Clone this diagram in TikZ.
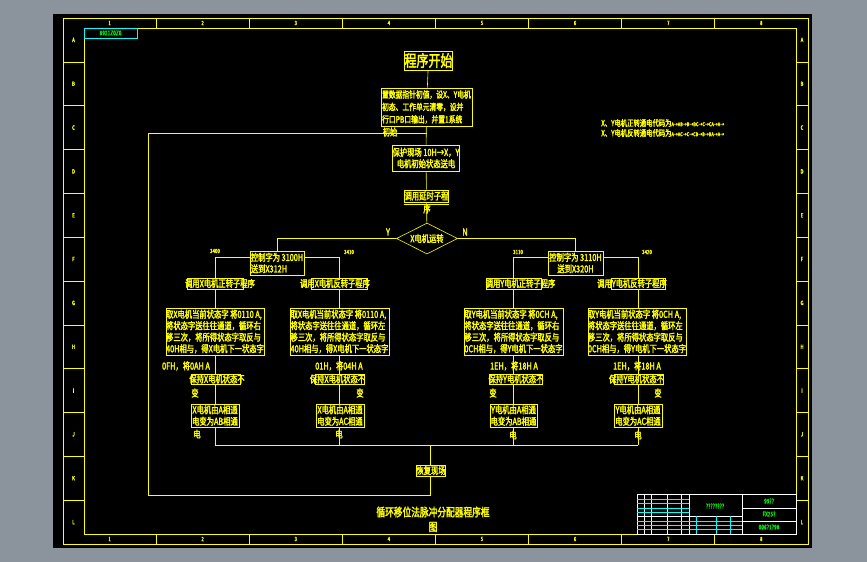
\documentclass[tikz,border=0pt]{standalone}
\usepackage{fontspec}
\newfontfamily\cadfont[FakeStretch=0.75,FakeBold=2.2]{Noto Sans CJK SC}
\usetikzlibrary{shapes.geometric,calc}
\definecolor{cadgray}{RGB}{139,147,157}
\definecolor{cadyellow}{RGB}{255,255,0}
\definecolor{cadcyan}{RGB}{0,255,255}
\definecolor{cadgreen}{RGB}{0,235,0}
\def\pxu{0.3mm}
\tikzset{
  cadline/.style={draw=cadyellow,line width=0.5pt},
  txt/.style={text=cadyellow,inner sep=0pt,font=\cadfont\fontsize{8.3}{9.8}\selectfont},
  tinytxt/.style={text=cadyellow,inner sep=0pt,font=\cadfont\fontsize{5}{6}\selectfont},
  box/.style={cadline,rectangle,inner sep=0pt,txt},
  wh/.style 2 args={minimum width=#1*\pxu,minimum height=#2*\pxu},
  tbtxt/.style={text=cadgreen,inner sep=0pt,font=\cadfont\fontsize{5.5}{6}\selectfont},
}
\begin{document}
\begin{tikzpicture}[x=0.3mm,y=-0.3mm]
  % SHEET
  \fill[cadgray] (0,0) rectangle (867,562);
  \fill[black] (53,14) rectangle (812,548);
  \draw[cadline] (63,18) rectangle (808,544);
  \draw[cadline] (84,28) rectangle (796,534);
  \foreach \i [count=\n] in {1,...,7}{
    \draw[cadline] (63+93.1*\n,18) -- (63+93.1*\n,28);
    \draw[cadline] (63+93.1*\n,534) -- (63+93.1*\n,544);
  }
  \foreach \i [count=\n] in {1,...,8}{
    \node[tinytxt] (zt\n) at (16.5+93.1*\n,23) {\i};
    \node[tinytxt] (zb\n) at (16.5+93.1*\n,539) {\i};
  }
  \foreach \l [count=\n] in {A,B,C,D,E,F,G,H,I,J,K,L}{
    \node[tinytxt] (zl\n) at (73.5,-3.9+43.83*\n) {\l};
    \node[tinytxt] (zr\n) at (802,-3.9+43.83*\n) {\l};
  }
  \foreach \n in {1,...,11}{
    \draw[cadline] (63,18+43.83*\n) -- (84,18+43.83*\n);
    \draw[cadline] (796,18+43.83*\n) -- (808,18+43.83*\n);
  }
  \draw[cadcyan,line width=0.4pt] (84,28) rectangle (137,38);
  \node[tbtxt] (dwgno) at (110.5,33) {8921Z0Z0};

  % BOXES
  \node[box,wh={47}{19},font=\cadfont\fontsize{13.6}{14}\selectfont] (start) at (428.5,60.5) {程序开始};
  \node[box,wh={91}{38},font=\cadfont\fontsize{7.7}{10.6}\selectfont,align=left] (init) at (426.5,107)
    {置数据指针初值，设X、Y电机\\初态、工作单元清零，设并\\行口PB口输出，并置1系统};
  \node[txt] (initb) at (390,132) {初始};
  \node[box,wh={66}{26},align=center] (prot) at (426,158) {保护现场 10H→X，Y\\电机初始状态送电};
  \node[box,wh={43}{12}] (delay) at (426.5,196) {调用延时子程};
  \node[txt] (delayb) at (427,209) {序};
  \node[cadline,diamond,shape aspect=2,inner sep=0pt,wh={61}{31},txt] (dec) at (427,238.5) {X电机运转};
  \node[txt] (yes) at (388,232) {Y};
  \node[txt] (no) at (465,232) {N};

  \node[box,wh={54}{24},align=left] (ctlX) at (277,263) {控制字为 3100H\\送到X312H};
  \node[box,wh={55}{24},align=center] (ctlY) at (575.5,263) {控制字为 3110H\\送到X320H};
  \node[tinytxt] (aXf) at (215,251) {3400};
  \node[tinytxt] (aXr) at (349,252) {3410};
  \node[tinytxt] (aYf) at (518,252) {3110};
  \node[tinytxt] (aYr) at (647,252) {3420};

  \node[box,wh={56}{11}] (cXf) at (215,283.5) {};
  \node[txt] (tXf) at (220,283.5) {调用X电机正转子程序};
  \node[box,wh={56}{11}] (cXr) at (339.5,283.5) {};
  \node[txt] (tXr) at (335,283.5) {调用X电机反转子程序};
  \node[box,wh={55}{11}] (cYf) at (513.5,283.5) {};
  \node[txt] (tYf) at (520.5,283.5) {调用Y电机正转子程序};
  \node[box,wh={54}{11}] (cYr) at (638,283.5) {};
  \node[txt] (tYr) at (632,283.5) {调用Y电机反转子程序};

  \node[box,wh={98}{47},align=left] (bXf) at (215,331.5)
    {取X电机当前状态字 将0110 A,\\将状态字送往往通道，循环右\\移三次，将所得状态字取反与\\40H相与，得X电机下一状态字};
  \node[box,wh={99}{47},align=left] (bXr) at (339.5,331.5)
    {取X电机当前状态字 将0110 A,\\将状态字送往往通道，循环左\\移三次，将所得状态字取反与\\40H相与，得X电机下一状态字};
  \node[box,wh={99}{47},align=left] (bYf) at (513.5,331.5)
    {取Y电机当前状态字 将0CH A,\\将状态字送往往通道，循环右\\移三次，将所得状态字取反与\\0CH相与，得Y电机下一状态字};
  \node[box,wh={98}{47},align=left] (bYr) at (637,331.5)
    {取Y电机当前状态字 将0CH A,\\将状态字送往往通道，循环左\\移三次，将所得状态字取反与\\0CH相与，得Y电机下一状态字};
  \node[txt] (eXf) at (186,366) {0FH，将0AH A};
  \node[txt] (eXr) at (339,366) {01H，将04H A};
  \node[txt] (eYf) at (514,366) {1EH，将18H A};
  \node[txt] (eYr) at (637,366) {1EH，将18H A};

  \node[box,wh={49}{10}] (kXf) at (215.5,379) {};
  \node[txt] (kXft) at (217,379) {保持X电机状态不};
  \node[txt] (kXfb) at (195,393) {变};
  \node[box,wh={49}{10}] (kXr) at (339.5,379) {};
  \node[txt] (kXrt) at (337.5,379) {保持X电机状态不};
  \node[txt] (kXrb) at (360,393) {变};
  \node[box,wh={53}{10}] (kYf) at (515.5,379) {};
  \node[txt] (kYft) at (516,379) {保持Y电机状态不};
  \node[txt] (kYfb) at (493,393) {变};
  \node[box,wh={49}{10}] (kYr) at (638.5,379) {};
  \node[txt] (kYrt) at (636.5,379) {保持Y电机状态不};
  \node[txt] (kYrb) at (658,393) {变};

  \node[box,wh={48}{23},align=center] (sXf) at (215,415.5) {X电机由A相通\\电变为AB相通};
  \node[txt] (sXfb) at (197,434) {电};
  \node[box,wh={48}{23},align=center] (sXr) at (340,415.5) {X电机由A相通\\电变为AC相通};
  \node[txt] (sXrb) at (339,434) {电};
  \node[box,wh={47}{23},align=center] (sYf) at (513.5,415.5) {Y电机由A相通\\电变为AB相通};
  \node[txt] (sYfb) at (513,435) {电};
  \node[box,wh={48}{23},align=center] (sYr) at (638,415.5) {Y电机由A相通\\电变为AC相通};
  \node[txt] (sYrb) at (638,435) {电};

  \coordinate (join) at (430,445);
  \node[box,wh={28}{11}] (rest) at (431,470.5) {恢复现场};
  \coordinate (lb) at (148,495);
  \coordinate (lt) at (148,133);
  \coordinate (li) at (427,133);

  % LINES
  \draw[cadline] (start) -- (init);
  \draw[cadline] (init) -- (prot);
  \draw[cadline] (prot) -- (delay);
  \draw[cadline] ([yshift=-0.6mm]delay.south west) -- ([yshift=-0.6mm]delay.south east);
  \draw[cadline] (delay) -- (dec);
  \draw[cadline] (dec.west) -| (ctlX.north);
  \draw[cadline] (dec.east) -| (ctlY.north);
  \draw[cadline] ([yshift=1.8mm]ctlX.west) -| (cXf.north);
  \draw[cadline] ([yshift=1.8mm]ctlX.east) -| (cXr.north);
  \draw[cadline] ([yshift=1.8mm]ctlY.west) -| (cYf.north);
  \draw[cadline] ([yshift=1.8mm]ctlY.east) -| (cYr.north);
  \foreach \c in {Xf,Xr,Yf,Yr}{
    \draw[cadline] (c\c.south) -- (c\c.south |- b\c.north)
      (c\c.south |- b\c.south) -- (c\c.south |- k\c.north)
      (c\c.south |- k\c.south) -- (c\c.south |- s\c.north)
      (c\c.south |- s\c.south) -- (c\c.south |- join);
  }
  \draw[cadline] (cXf.south |- join) -- (cYr.south |- join);
  \draw[cadline] (join) -- (join |- rest.north);
  \draw[cadline] (join |- rest.south) |- (lb) -- (lt) -- (li);

  % NOTES
  \node[txt,anchor=west,font=\cadfont\fontsize{7.2}{8}\selectfont] (n1) at (601,123)
    {X、Y电机正转通电代码为{\fontsize{4.5}{5}\selectfont A→AB→B→BC→C→CA→A→}};
  \node[txt,anchor=west,font=\cadfont\fontsize{7.2}{8}\selectfont] (n2) at (601,133)
    {X、Y电机反转通电代码为{\fontsize{4.5}{5}\selectfont A→AC→C→CB→B→BA→A→}};
  \node[txt,font=\cadfont\fontsize{9.9}{11}\selectfont] (title) at (433,512) {循环移位法脉冲分配器程序框};
  \node[txt,font=\cadfont\fontsize{9.9}{11}\selectfont] (titleb) at (433,527) {图};

  % TITLE BLOCK
  \draw[white,line width=0.4pt] (637,494) rectangle (796,534)
    (689,494) -- (689,534) (742,494) -- (742,534)
    (742,508) -- (796,508) (742,521) -- (796,521) (637,516) -- (742,516)
    (644,494) -- (644,534) (651,494) -- (651,534) (667,494) -- (667,534) (681,494) -- (681,534);
  \foreach \y in {499,503,508,512}{\draw[cadcyan,line width=0.3pt] (637,\y) -- (689,\y);}
  \foreach \y in {521,525,529}{\draw[cadcyan,line width=0.3pt] (637,\y) -- (742,\y);}
  \foreach \x in {696,716,730}{\draw[cadcyan,line width=0.3pt] (\x,516) -- (\x,534);}
  \node[tbtxt] (tb1) at (715,506) {????????};
  \node[tbtxt] (tb2) at (769,501) {99??};
  \node[tbtxt] (tb3) at (769,514) {FX25?};
  \node[tbtxt] (tb4) at (769,527) {006?1?98};
\end{tikzpicture}
\end{document}
